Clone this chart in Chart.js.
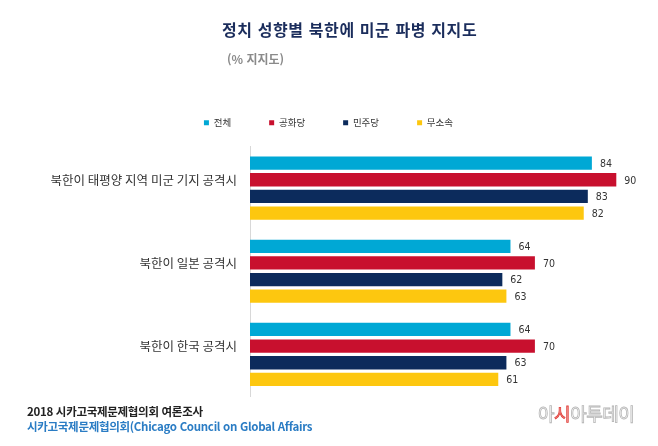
<!DOCTYPE html>
<html lang="ko">
<head>
<meta charset="utf-8">
<script src="https://cdn.jsdelivr.net/npm/chart.js@4.4.1/dist/chart.umd.min.js"></script>
<style>
  html, body { margin: 0; padding: 0; background: #fff; }
  body { width: 658px; height: 446px; position: relative; overflow: hidden;
         font-family: 'Noto Sans CJK KR', 'Noto Sans', sans-serif; }
  #chart { position: absolute; left: 0; top: 0; }
  .txt { position: absolute; white-space: nowrap; }
  #title { left: 222px; top: 17px; font-size: 16px; font-weight: 700; color: #1b2d5c; letter-spacing: 0.6px; }
  #sub { left: 227px; top: 50px; font-size: 12px; font-weight: 700; color: #8a8a8a; }
  #src1 { left: 27px; top: 403px; font-size: 11.5px; font-weight: 700; color: #222; letter-spacing: -0.3px; }
  #src2 { left: 27px; top: 418px; font-size: 11.5px; font-weight: 700; color: #2a7cc4; letter-spacing: -0.3px; }
  #logo { left: 538px; top: 400px; font-size: 18px; color: #fff; letter-spacing: -0.5px;
          -webkit-text-stroke: 0.8px #b5b5b5; }
  #logo span { -webkit-text-stroke: 0.8px #e0403a; color: #f3a0a0; }
</style>
</head>
<body>
<canvas id="chart" width="658" height="446"></canvas>
<div class="txt" id="title">정치 성향별 북한에 미군 파병 지지도</div>
<div class="txt" id="sub">(% 지지도)</div>
<div class="txt" id="src1">2018 시카고국제문제협의회 여론조사</div>
<div class="txt" id="src2">시카고국제문제협의회(Chicago Council on Global Affairs</div>
<div class="txt" id="logo">아<span>시</span>아투데이</div>
<script>
// 데이터
const categories = ['북한이 태평양 지역 미군 기지 공격시', '북한이 일본 공격시', '북한이 한국 공격시'];
const seriesNames = ['전체', '공화당', '민주당', '무소속'];
const totalValues = [84, 64, 64];
const republicanValues = [90, 70, 70];
const democratValues = [83, 62, 63];
const independentValues = [82, 63, 61];
const seriesColors = ['#00a8d5', '#c8102e', '#0c2b5c', '#fdc70f'];

const seriesValues = [totalValues, republicanValues, democratValues, independentValues];

// 막대 끝에 값 표시
const valueLabels = {
  id: 'valueLabels',
  afterDatasetsDraw(chart) {
    const ctx = chart.ctx;
    ctx.save();
    ctx.font = "10.5px 'Liberation Sans Narrow', 'DejaVu Sans Condensed', sans-serif";
    ctx.fillStyle = '#333';
    ctx.textAlign = 'left';
    ctx.textBaseline = 'middle';
    chart.data.datasets.forEach((ds, i) => {
      const meta = chart.getDatasetMeta(i);
      meta.data.forEach((bar, j) => {
        ctx.fillText(ds.data[j], bar.x + 8, bar.y + 1);
      });
    });
    ctx.restore();
  }
};

// 범례 아래 여백 조정 (가로 간격은 넓게 유지)
const legendFit = {
  id: 'legendFit',
  beforeInit(chart) {
    const origFit = chart.legend.fit;
    chart.legend.fit = function () {
      origFit.call(this);
      this.height += 9;
    };
  }
};

const ctx = document.getElementById('chart').getContext('2d');
new Chart(ctx, {
  type: 'bar',
  data: {
    labels: categories,
    datasets: seriesNames.map((name, i) => ({
      label: name,
      data: seriesValues[i],
      backgroundColor: seriesColors[i],
      borderColor: seriesColors[i],
      borderWidth: 0,
      categoryPercentage: 0.8,
      barPercentage: 0.8
    }))
  },
  options: {
    indexAxis: 'y',
    responsive: false,
    animation: false,
    devicePixelRatio: 1,
    layout: {
      padding: { top: 80, bottom: 50, left: 0, right: 1 }
    },
    plugins: {
      legend: {
        position: 'top',
        labels: {
          boxWidth: 5,
          boxHeight: 5,
          padding: 38,
          color: '#333',
          font: { size: 9.5, family: "'Noto Sans CJK KR', sans-serif" }
        }
      },
      tooltip: { enabled: false }
    },
    scales: {
      x: {
        display: false,
        min: 0,
        max: 100
      },
      y: {
        grid: { display: false, drawTicks: false },
        border: { display: true, color: '#d8d8d8', width: 1 },
        ticks: {
          padding: 13,
          labelOffset: -8,
          color: '#333',
          font: { size: 12.5, family: "'Noto Sans CJK KR', sans-serif" }
        },
        afterFit(scale) {
          scale.width = 250;
        }
      }
    }
  },
  plugins: [valueLabels, legendFit]
});
</script>
</body>
</html>
